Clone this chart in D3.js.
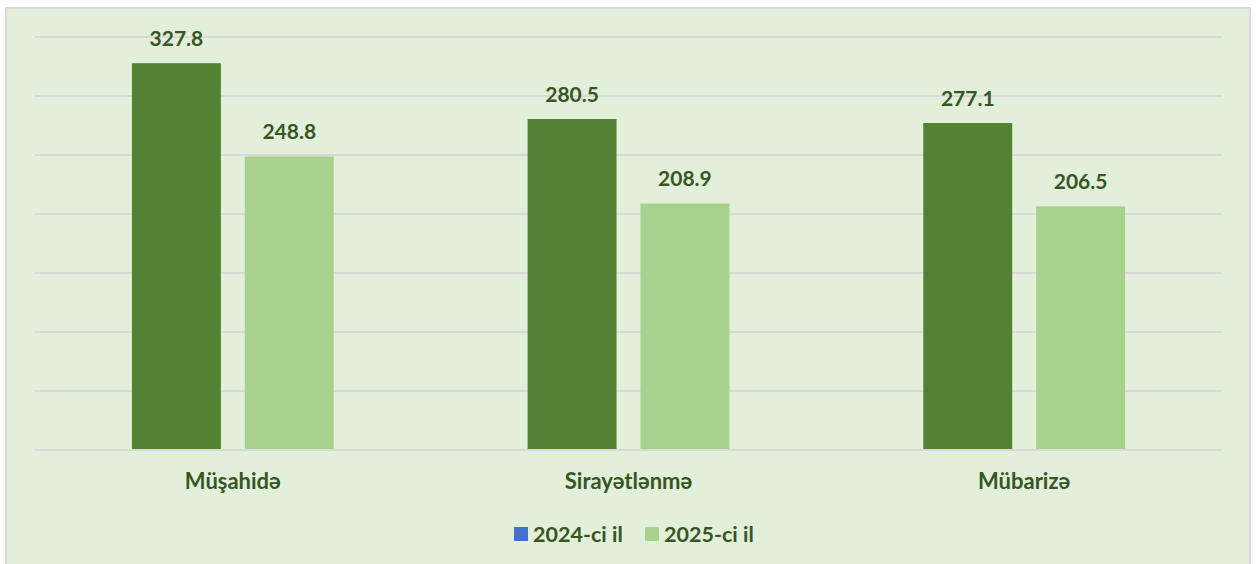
<!DOCTYPE html>
<html>
<head>
<meta charset="utf-8">
<script src="https://cdn.jsdelivr.net/npm/d3@7"></script>
<style>
  body { margin: 0; background: #ffffff; }
  svg { display: block; font-family: Lato, "Open Sans", sans-serif; }
</style>
</head>
<body>
<div id="vis"></div>
<script>
// Data
const CATEGORIES = ["Müşahidə", "Sirayətlənmə", "Mübarizə"];
const SERIES = ["2024-ci il", "2025-ci il"];
const VALUES_2024 = [327.8, 280.5, 277.1];
const VALUES_2025 = [248.8, 208.9, 206.5];
const GRID_TICKS = [0, 50, 100, 150, 200, 250, 300, 350];

// Frame
const FRAME_WIDTH = 1257;
const FRAME_HEIGHT = 564;
const MARGINS = {left: 35, right: 35, top: 37, bottom: 114};
const VIS_WIDTH = FRAME_WIDTH - MARGINS.left - MARGINS.right;
const VIS_HEIGHT = FRAME_HEIGHT - MARGINS.top - MARGINS.bottom;

const BAR_COLORS = ["#548235", "#a9d18e"];
const LEGEND_COLORS = ["#4472c4", "#a9d18e"];
const TEXT_COLOR = "#375623";

const FRAME = d3.select("#vis")
  .append("svg")
    .attr("width", FRAME_WIDTH)
    .attr("height", FRAME_HEIGHT);

// chart area background + border
FRAME.append("rect")
  .attr("x", 6)
  .attr("y", 8)
  .attr("width", 1244)
  .attr("height", 570)
  .attr("fill", "#e2efda")
  .attr("stroke", "#d9d9d9")
  .attr("stroke-width", 2);

const plot = FRAME.append("g")
  .attr("transform", "translate(" + MARGINS.left + "," + MARGINS.top + ")");

// Scales
const X_SCALE = d3.scaleBand()
  .domain(CATEGORIES)
  .range([0, VIS_WIDTH])
  .padding(0);

const bw = X_SCALE.bandwidth();
const X_INNER = d3.scaleBand()
  .domain(SERIES)
  .range([bw * 0.245, bw * 0.755])
  .paddingInner(0.212)
  .paddingOuter(0);

const Y_SCALE = d3.scaleLinear()
  .domain([0, 350])
  .range([VIS_HEIGHT, 0]);

// Gridlines
plot.selectAll(".grid")
  .data(GRID_TICKS)
  .enter()
  .append("line")
    .attr("x1", 0)
    .attr("x2", VIS_WIDTH)
    .attr("y1", (d) => Y_SCALE(d))
    .attr("y2", (d) => Y_SCALE(d))
    .attr("stroke", "#d9d9d9")
    .attr("stroke-width", 2);

// Bars
const rows = [];
CATEGORIES.forEach((c, i) => {
  rows.push({cat: c, series: SERIES[0], value: VALUES_2024[i], k: 0});
  rows.push({cat: c, series: SERIES[1], value: VALUES_2025[i], k: 1});
});

plot.selectAll(".bar")
  .data(rows)
  .enter()
  .append("rect")
    .attr("class", "bar")
    .attr("x", (d) => X_SCALE(d.cat) + X_INNER(d.series))
    .attr("y", (d) => Y_SCALE(d.value))
    .attr("width", X_INNER.bandwidth())
    .attr("height", (d) => VIS_HEIGHT - Y_SCALE(d.value) - 1)
    .attr("fill", (d) => BAR_COLORS[d.k]);

// Value labels
plot.selectAll(".lbl")
  .data(rows)
  .enter()
  .append("text")
    .attr("x", (d) => X_SCALE(d.cat) + X_INNER(d.series) + X_INNER.bandwidth() / 2)
    .attr("y", (d) => Y_SCALE(d.value) - 17)
    .attr("text-anchor", "middle")
    .attr("font-size", "21px")
    .attr("font-weight", "bold")
    .attr("fill", TEXT_COLOR)
    .text((d) => d.value.toFixed(1));

// Category labels
plot.selectAll(".cat")
  .data(CATEGORIES)
  .enter()
  .append("text")
    .attr("x", (d) => X_SCALE(d) + bw / 2)
    .attr("y", VIS_HEIGHT + 39)
    .attr("text-anchor", "middle")
    .attr("font-size", "22px")
    .attr("font-weight", "bold")
    .attr("fill", TEXT_COLOR)
    .text((d) => d);

// Legend
const LEGEND_X = [514, 645];
const legend = FRAME.selectAll(".legend")
  .data(SERIES)
  .enter()
  .append("g")
    .attr("transform", (d, i) => "translate(" + LEGEND_X[i] + ",527)");

legend.append("rect")
  .attr("width", 14)
  .attr("height", 14)
  .attr("fill", (d, i) => LEGEND_COLORS[i]);

legend.append("text")
  .attr("x", 19)
  .attr("y", 14.5)
  .attr("font-size", "21.5px")
  .attr("font-weight", "bold")
  .attr("fill", TEXT_COLOR)
  .text((d) => d);
</script>
</body>
</html>
